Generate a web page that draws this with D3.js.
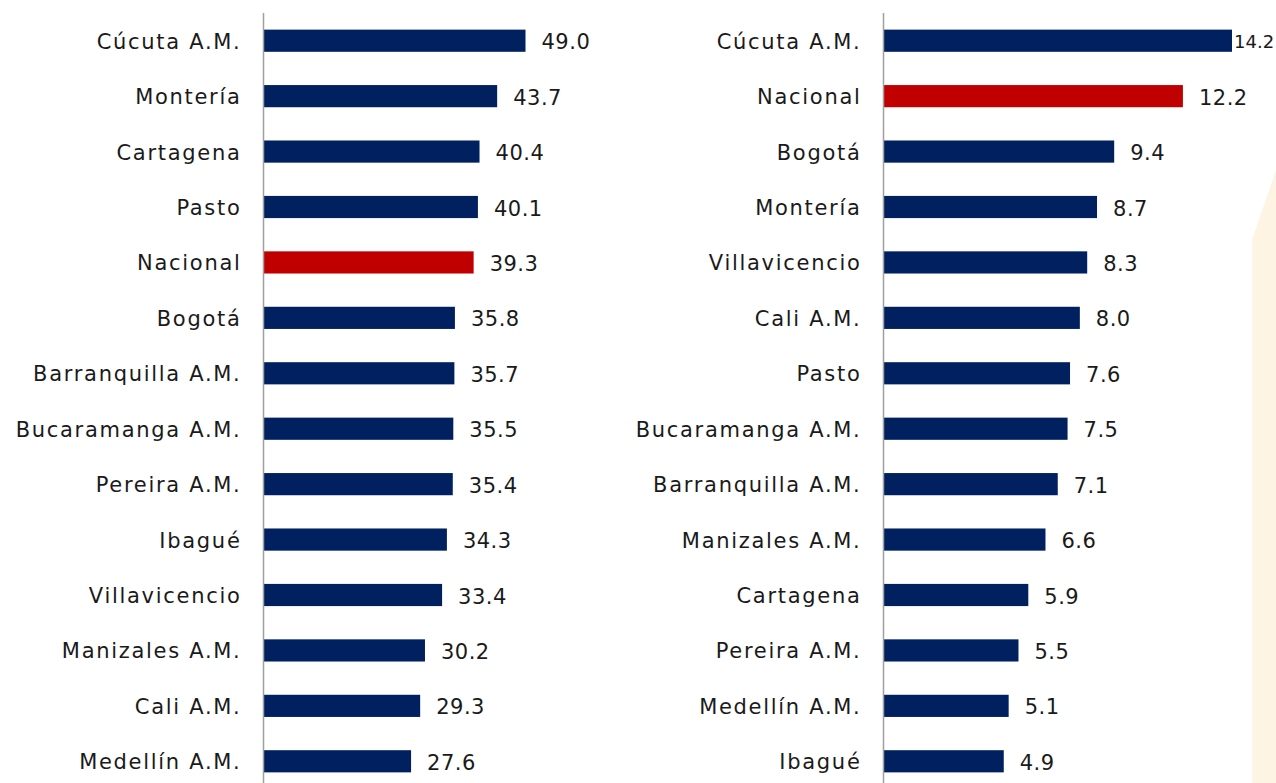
<!DOCTYPE html>
<html>
<head>
<meta charset="utf-8">
<script src="https://cdn.jsdelivr.net/npm/d3@7"></script>
<style>
  body { margin: 0; background: #fff; }
  text { font-family: "DejaVu Sans", sans-serif; fill: #1a1a1a; }
</style>
</head>
<body>
<div id="chart"></div>
<script>
// left panel
var leftCities = ["Cúcuta A.M.", "Montería ", "Cartagena", "Pasto", "Nacional", "Bogotá",
  "Barranquilla A.M.", "Bucaramanga A.M.", "Pereira A.M.", "Ibagué", "Villavicencio",
  "Manizales A.M.", "Cali A.M.", "Medellín A.M."];
var leftValues = [49.0, 43.7, 40.4, 40.1, 39.3, 35.8, 35.7, 35.5, 35.4, 34.3, 33.4, 30.2, 29.3, 27.6];

// right panel
var rightCities = ["Cúcuta A.M.", "Nacional", "Bogotá", "Montería ", "Villavicencio", "Cali A.M.",
  "Pasto", "Bucaramanga A.M.", "Barranquilla A.M.", "Manizales A.M.", "Cartagena",
  "Pereira A.M.", "Medellín A.M.", "Ibagué"];
var rightValues = [14.2, 12.2, 9.4, 8.7, 8.3, 8.0, 7.6, 7.5, 7.1, 6.6, 5.9, 5.5, 5.1, 4.9];

var W = 1276, H = 783;
var navy = "#002060", red = "#c00000";
var fontSize = 21;
var spacing = 1.7;

var svg = d3.select("#chart").append("svg")
  .attr("width", W)
  .attr("height", H);

// faint decoration on the right edge
svg.append("path")
  .attr("d", "M1252,783 L1252,240 L1276,170 L1276,783 Z")
  .style("fill", "#fdf4e4");

function drawPanel(cities, values, axisX, xMax, pxPerUnit, labelRight) {
  var x = d3.scaleLinear()
    .domain([0, xMax])
    .range([axisX, axisX + xMax * pxPerUnit]);

  var y = d3.scaleBand()
    .domain(cities)
    .range([13, 789])
    .paddingInner(0.6)
    .paddingOuter(0.3);

  var g = svg.append("g");

  g.selectAll()
    .data(values)
    .enter()
    .append("rect")
    .attr("x", x(0))
    .attr("y", function(d, i) { return y(cities[i]); })
    .attr("width", function(d) { return x(d) - x(0); })
    .attr("height", y.bandwidth())
    .style("fill", function(d, i) { return cities[i] == "Nacional" ? red : navy; });

  // axis line
  g.append("line")
    .attr("x1", x(0)).attr("x2", x(0))
    .attr("y1", 13).attr("y2", H)
    .style("stroke", "#a0a0a0")
    .style("stroke-width", 1.5);

  // category labels
  g.selectAll()
    .data(cities)
    .enter()
    .append("text")
    .attr("x", x(0) - 22)
    .attr("y", function(d) { return y(d) + y.bandwidth() / 2 + 8; })
    .attr("text-anchor", "end")
    .style("font-size", fontSize + "px")
    .style("letter-spacing", spacing + "px")
    .text(function(d) { return d.trim(); });

  // value labels, shrunk against the edge when there is no room
  g.selectAll()
    .data(values)
    .enter()
    .append("text")
    .attr("y", function(d, i) { return y(cities[i]) + y.bandwidth() / 2 + 8.5; })
    .style("font-size", fontSize + "px")
    .style("letter-spacing", "0.5px")
    .text(function(d) { return d.toFixed(1); })
    .each(function(d) {
      var w = this.getComputedTextLength();
      var lx = Math.min(x(d) + 16, labelRight - w);
      if (lx < x(d) + 2) {
        lx = x(d) + 2;
        d3.select(this)
          .style("letter-spacing", "0px")
          .style("font-size", "18px")
          .attr("y", +d3.select(this).attr("y") - 1);
      }
      d3.select(this).attr("x", lx);
    });
}

drawPanel(leftCities, leftValues, 263.5, 55, 262 / 49, 620);
drawPanel(rightCities, rightValues, 883.5, 16, 348.5 / 14.2, 1274);
</script>
</body>
</html>
